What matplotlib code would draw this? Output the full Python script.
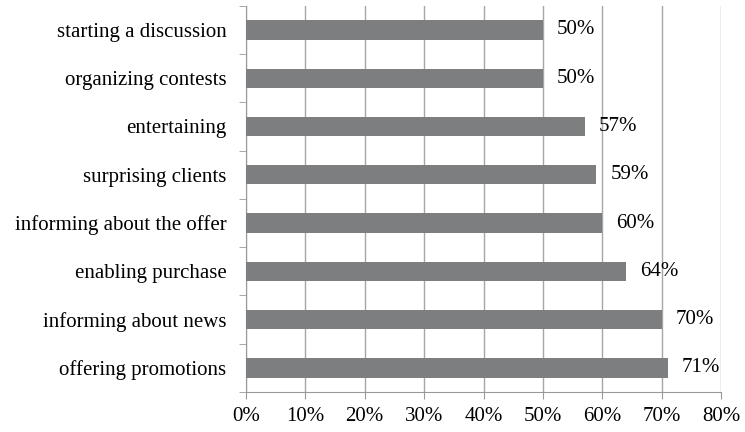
import matplotlib.pyplot as plt
import matplotlib.ticker as tick

categories = ["starting a discussion", "organizing contests", "entertaining",
              "surprising clients", "informing about the offer", "enabling purchase",
              "informing about news", "offering promotions"]
values = [50, 50, 57, 59, 60, 64, 70, 71]

plt.rcParams['font.family'] = ['Liberation Serif', 'DejaVu Serif']
plt.rcParams['font.size'] = 15

fig = plt.figure(figsize=(7.45, 4.32), dpi=100)
ax = fig.add_axes([0.330, 0.0926, 0.638, 0.894])

pos = list(range(len(categories)))[::-1]
ax.barh(pos, values, height=0.4, color='#7d7e80', zorder=3)

for p, v in zip(pos, values):
    ax.annotate(f"{v}%", (v, p), xytext=(10, 0), textcoords='offset points',
                va='center', ha='left', fontsize=15)

ax.set_xlim(0, 80)
ax.set_ylim(-0.5, len(categories) - 0.5)
ax.set_xticks(range(0, 81, 10))
ax.xaxis.set_major_formatter(tick.FuncFormatter(lambda x, _: f"{int(x)}%"))
ax.set_yticks(pos)
ax.set_yticklabels(categories)
ax.yaxis.set_minor_locator(tick.FixedLocator([p - 0.5 for p in range(len(categories) + 1)]))
ax.tick_params(axis='y', which='major', length=0, pad=14)
ax.tick_params(axis='y', which='minor', length=5, color='#999999')
ax.tick_params(axis='x', length=5, color='#999999', pad=6)

ax.grid(axis='x', color='#a6a6a6', linewidth=1, zorder=0)
for s in ['top', 'right']:
    ax.spines[s].set_visible(False)
for s in ['left', 'bottom']:
    ax.spines[s].set_color('#999999')

plt.savefig("out.png", dpi=100)
